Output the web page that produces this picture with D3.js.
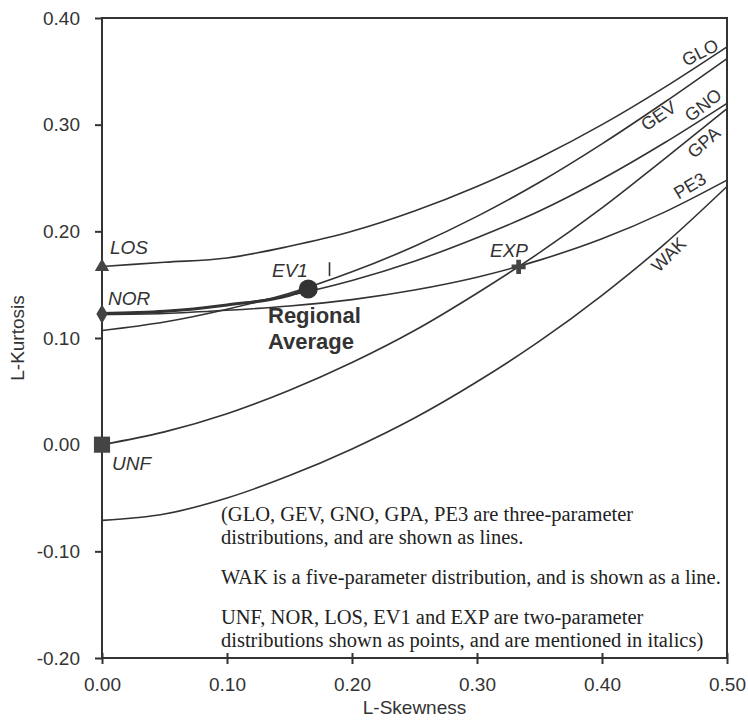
<!DOCTYPE html>
<html>
<head>
<meta charset="utf-8">
<script src="https://cdn.jsdelivr.net/npm/d3@7"></script>
<style>
  body { margin: 0; background: #fff; }
  svg { display: block; }
</style>
</head>
<body>
<div id="chart"></div>
<script>
// L-skewness grid the curves were read on
var skew = [0, 0.05, 0.10, 0.15, 0.20, 0.25, 0.30, 0.35, 0.40, 0.45, 0.50];

// L-kurtosis of each curve
var GLO = [0.167, 0.171, 0.175, 0.186, 0.200, 0.219, 0.242, 0.269, 0.300, 0.335, 0.373];
var GEV = [0.107, 0.115, 0.127, 0.142, 0.162, 0.186, 0.214, 0.246, 0.282, 0.321, 0.362];
var GNO = [0.123, 0.125, 0.131, 0.140, 0.154, 0.172, 0.194, 0.219, 0.249, 0.283, 0.320];
var GPA = [0.000, 0.012, 0.029, 0.051, 0.077, 0.107, 0.142, 0.180, 0.222, 0.268, 0.315];
var PE3 = [0.122, 0.123, 0.126, 0.130, 0.136, 0.145, 0.157, 0.173, 0.193, 0.218, 0.248];
var WAK = [-0.071, -0.065, -0.050, -0.029, -0.004, 0.025, 0.059, 0.097, 0.140, 0.188, 0.242];

var curveNames = ["GLO", "GEV", "GNO", "GPA", "PE3", "WAK"];
var curveValues = [GLO, GEV, GNO, GPA, PE3, WAK];

// two-parameter distributions (points)
var pointNames = ["LOS", "NOR", "UNF", "EV1", "EXP"];
var pointSkew = [0, 0, 0, 0.1699, 0.3333];
var pointKurt = [0.1667, 0.1226, 0, 0.1504, 0.1667];

// regional average
var regSkew = 0.165;
var regKurt = 0.146;

var xTicks = [0, 0.1, 0.2, 0.3, 0.4, 0.5];
var xTickLabels = ["0.00", "0.10", "0.20", "0.30", "0.40", "0.50"];
var yTicks = [-0.2, -0.1, 0, 0.1, 0.2, 0.3, 0.4];
var yTickLabels = ["-0.20", "-0.10", "0.00", "0.10", "0.20", "0.30", "0.40"];

var notes = [
  "(GLO, GEV, GNO, GPA, PE3 are three-parameter",
  "distributions, and are shown as lines.",
  "",
  "WAK is a five-parameter distribution, and is shown as a line.",
  "",
  "UNF, NOR, LOS, EV1 and EXP are two-parameter",
  "distributions shown as points, and are mentioned in italics)"
];

var width = 748, height = 724;
var margin = {top: 18, right: 21, bottom: 66, left: 102};
var ink = "#333";

var svg = d3.select("#chart").append("svg")
  .attr("width", width)
  .attr("height", height);

var x = d3.scaleLinear().domain([0, 0.5]).range([margin.left, width - margin.right]);
var y = d3.scaleLinear().domain([-0.2, 0.4]).range([height - margin.bottom, margin.top]);

// frame
svg.append("rect")
  .attr("x", x(0)).attr("y", y(0.4))
  .attr("width", x(0.5) - x(0)).attr("height", y(-0.2) - y(0.4))
  .attr("fill", "none").attr("stroke", ink).attr("stroke-width", 2);

// axes
var yAxis = d3.axisLeft(y)
  .tickValues(yTicks)
  .tickFormat(function(d, i){ return yTickLabels[i]; })
  .tickSize(7).tickPadding(15);
var gy = svg.append("g").attr("transform", "translate(" + x(0) + ",0)").call(yAxis);

var xAxis = d3.axisBottom(x)
  .tickValues(xTicks)
  .tickFormat(function(d, i){ return xTickLabels[i]; })
  .tickSize(6).tickPadding(14);
var gx = svg.append("g").attr("transform", "translate(0," + y(-0.2) + ")").call(xAxis);
// bottom ticks also poke a bit into the plot
gx.selectAll(".tick").append("line").attr("y1", 0).attr("y2", -5).attr("stroke", ink).attr("stroke-width", 2);

[gx, gy].forEach(function(g){
  g.select(".domain").remove();
  g.selectAll(".tick line").attr("stroke", ink).attr("stroke-width", 2);
  g.selectAll(".tick text")
    .attr("fill", ink)
    .style("font-family", "'Liberation Sans', Arial, sans-serif")
    .style("font-size", "19px");
});

svg.append("text")
  .attr("x", (x(0) + x(0.5)) / 2).attr("y", 714)
  .attr("text-anchor", "middle")
  .attr("fill", ink)
  .style("font-family", "'Liberation Sans', Arial, sans-serif")
  .style("font-size", "19px")
  .text("L-Skewness");

svg.append("text")
  .attr("transform", "translate(24," + y(0.1) + ") rotate(-90)")
  .attr("text-anchor", "middle")
  .attr("fill", ink)
  .style("font-family", "'Liberation Sans', Arial, sans-serif")
  .style("font-size", "19px")
  .text("L-Kurtosis");

// curves
var line = d3.line()
  .x(function(d){ return x(d[0]); })
  .y(function(d){ return y(d[1]); })
  .curve(d3.curveMonotoneX);

curveValues.forEach(function(vals, i){
  var pts = skew.map(function(s, j){ return [s, vals[j]]; });
  svg.append("path")
    .attr("d", line(pts))
    .attr("fill", "none")
    .attr("stroke", ink)
    .attr("stroke-width", 1.6)
    .attr("class", curveNames[i]);
});

// the thick trace from NOR up to the regional average
var trace = skew.filter(function(s){ return s < regSkew; })
  .map(function(s, j){ return [s, GNO[j]]; });
trace.push([regSkew, regKurt]);
svg.append("path")
  .attr("d", line(trace))
  .attr("fill", "none")
  .attr("stroke", ink)
  .attr("stroke-width", 3);

// curve labels, rotated along the lines
var curveLabelPos = {
  GLO: [703, 58, -27],
  GEV: [662, 121, -34],
  GNO: [707, 110, -38],
  GPA: [708, 147, -42],
  PE3: [693, 191, -31],
  WAK: [673, 259, -45]
};
curveNames.forEach(function(n){
  var p = curveLabelPos[n];
  svg.append("text")
    .attr("transform", "translate(" + p[0] + "," + p[1] + ") rotate(" + p[2] + ")")
    .attr("text-anchor", "middle")
    .attr("fill", ink)
    .style("font-family", "'Liberation Sans', Arial, sans-serif")
    .style("font-size", "18px")
    .text(n);
});

// point markers
var sym = {
  LOS: d3.symbolTriangle,
  NOR: d3.symbolDiamond,
  UNF: d3.symbolSquare
};
var symSize = {LOS: 90, NOR: 110, UNF: 260};
pointNames.forEach(function(n, i){
  var px = x(pointSkew[i]), py = y(pointKurt[i]);
  if (sym[n]) {
    svg.append("path")
      .attr("d", d3.symbol().type(sym[n]).size(symSize[n])())
      .attr("transform", "translate(" + px + "," + py + ")")
      .attr("fill", "#444");
  }
  else if (n == "EXP") {
    svg.append("path")
      .attr("d", d3.symbol().type(d3.symbolCross).size(110)())
      .attr("transform", "translate(" + px + "," + py + ")")
      .attr("fill", "#444");
  }
});

// small upright tick beside EV1
svg.append("line")
  .attr("x1", x(0.182)).attr("x2", x(0.182))
  .attr("y1", y(0.171)).attr("y2", y(0.158))
  .attr("stroke", ink).attr("stroke-width", 1.6);

// regional average
svg.append("circle")
  .attr("cx", x(regSkew)).attr("cy", y(regKurt))
  .attr("r", 9.5)
  .attr("fill", "#333");

// point labels (italic)
var pointLabelPos = {
  LOS: [110, 254],
  NOR: [108, 305],
  UNF: [112, 470],
  EV1: [272, 277],
  EXP: [490, 257]
};
pointNames.forEach(function(n){
  var p = pointLabelPos[n];
  svg.append("text")
    .attr("x", p[0]).attr("y", p[1])
    .attr("fill", ink)
    .style("font-family", "'Liberation Sans', Arial, sans-serif")
    .style("font-style", "italic")
    .style("font-size", "19px")
    .text(n);
});

svg.append("text")
  .attr("x", 268).attr("y", 323)
  .attr("fill", ink)
  .style("font-family", "'Liberation Sans', Arial, sans-serif")
  .style("font-weight", "bold")
  .style("font-size", "22px")
  .selectAll("tspan")
  .data(["Regional", "Average"])
  .enter().append("tspan")
  .attr("x", 268)
  .attr("dy", function(d, i){ return i == 0 ? 0 : 26; })
  .text(function(d){ return d; });

// notes
svg.append("text")
  .attr("x", 221).attr("y", 521)
  .attr("fill", "#222")
  .style("font-family", "'Liberation Serif', 'Times New Roman', serif")
  .style("font-size", "20.5px")
  .selectAll("tspan")
  .data(notes)
  .enter().append("tspan")
  .attr("x", 221)
  .attr("dy", function(d, i){ return i == 0 ? 0 : (d == "" || notes[i-1] == "" ? 20 : 23); })
  .text(function(d){ return d == "" ? " " : d; });
</script>
</body>
</html>
